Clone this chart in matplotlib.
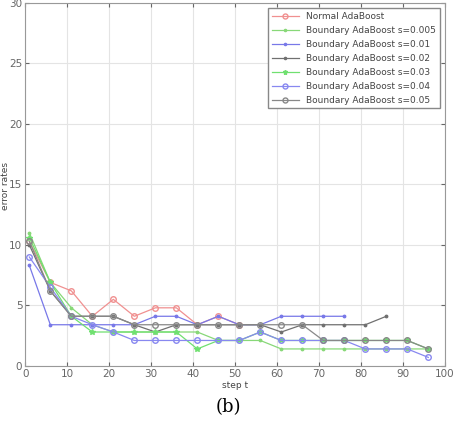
import numpy as np
import matplotlib.pyplot as plt

steps = np.arange(1, 100, 5)

normal = [10.3, 6.9, 6.2, 4.1, 5.5, 4.1, 4.8, 4.8, 3.4, 4.1, 3.4]
s005 = [11.0, 6.9, 4.8, 3.4, 2.8, 2.8, 2.8, 2.8, 2.8, 2.1, 2.1, 2.1, 1.4, 1.4, 1.4, 1.4, 1.4, 1.4, 1.4, 1.4]
s01 = [8.3, 3.4, 3.4, 3.4, 3.4, 3.4, 4.1, 4.1, 3.4, 4.1, 3.4, 3.4, 4.1, 4.1, 4.1, 4.1]
s02 = [10.0, 6.2, 4.1, 4.1, 4.1, 3.4, 2.8, 3.4, 3.4, 3.4, 3.4, 3.4, 2.8, 3.4, 3.4, 3.4, 3.4, 4.1]
s03 = [10.6, 6.9, 4.1, 2.8, 2.8, 2.8, 2.8, 2.8, 1.4, 2.1, 2.1, 2.8, 2.1, 2.1, 2.1, 2.1, 2.1, 2.1, 2.1, 1.4]
s04 = [9.0, 6.5, 4.1, 3.4, 2.8, 2.1, 2.1, 2.1, 2.1, 2.1, 2.1, 2.8, 2.1, 2.1, 2.1, 2.1, 1.4, 1.4, 1.4, 0.7]
s05 = [10.3, 6.2, 4.1, 4.1, 4.1, 3.4, 3.4, 3.4, 3.4, 3.4, 3.4, 3.4, 3.4, 3.4, 2.1, 2.1, 2.1, 2.1, 2.1, 1.4]

series = [
    ('Normal AdaBoost', normal, '#f09090', 'o'),
    ('Boundary AdaBoost s=0.005', s005, '#88d878', '.'),
    ('Boundary AdaBoost s=0.01', s01, '#7878e8', '.'),
    ('Boundary AdaBoost s=0.02', s02, '#707070', '.'),
    ('Boundary AdaBoost s=0.03', s03, '#70e070', '*'),
    ('Boundary AdaBoost s=0.04', s04, '#8888f0', 'o'),
    ('Boundary AdaBoost s=0.05', s05, '#888888', 'o'),
]

fig = plt.figure(figsize=(4.57, 4.22), dpi=100)
ax = fig.add_axes([0.055, 0.133, 0.919, 0.86])

for name, vals, col, mk in series:
    ax.plot(steps[:len(vals)], vals, color=col, marker=mk, markersize=4 if mk != '.' else 3.5,
            markerfacecolor='none' if mk == 'o' else col, linewidth=0.9, label=name)

ax.set_xlim(0, 100)
ax.set_ylim(0, 30)
ax.set_xticks(range(0, 101, 10))
ax.set_yticks(range(0, 31, 5))
ax.grid(True, color='#e4e4e4', linewidth=0.8)
ax.tick_params(direction='in', length=3, labelsize=7.5, colors='#666666', right=True, top=True, pad=2)
for sp in ax.spines.values():
    sp.set_color('#999999')

ax.set_xlabel('step t', fontsize=6.5, color='#444444', labelpad=2)
fig.text(0.013, 0.56, 'error rates', rotation=90, ha='center', va='center', fontsize=6.5, color='#444444')

leg = ax.legend(loc='upper right', fontsize=6.5, handlelength=3, borderaxespad=0.6,
                fancybox=False, framealpha=1, labelspacing=0.55, markerscale=0.9)
leg.get_frame().set_edgecolor('#888888')
for t in leg.get_texts():
    t.set_color('#444444')

fig.text(0.5, 0.035, '(b)', ha='center', va='center', fontsize=13, family='DejaVu Serif')

fig.savefig('out.png', dpi=100)
